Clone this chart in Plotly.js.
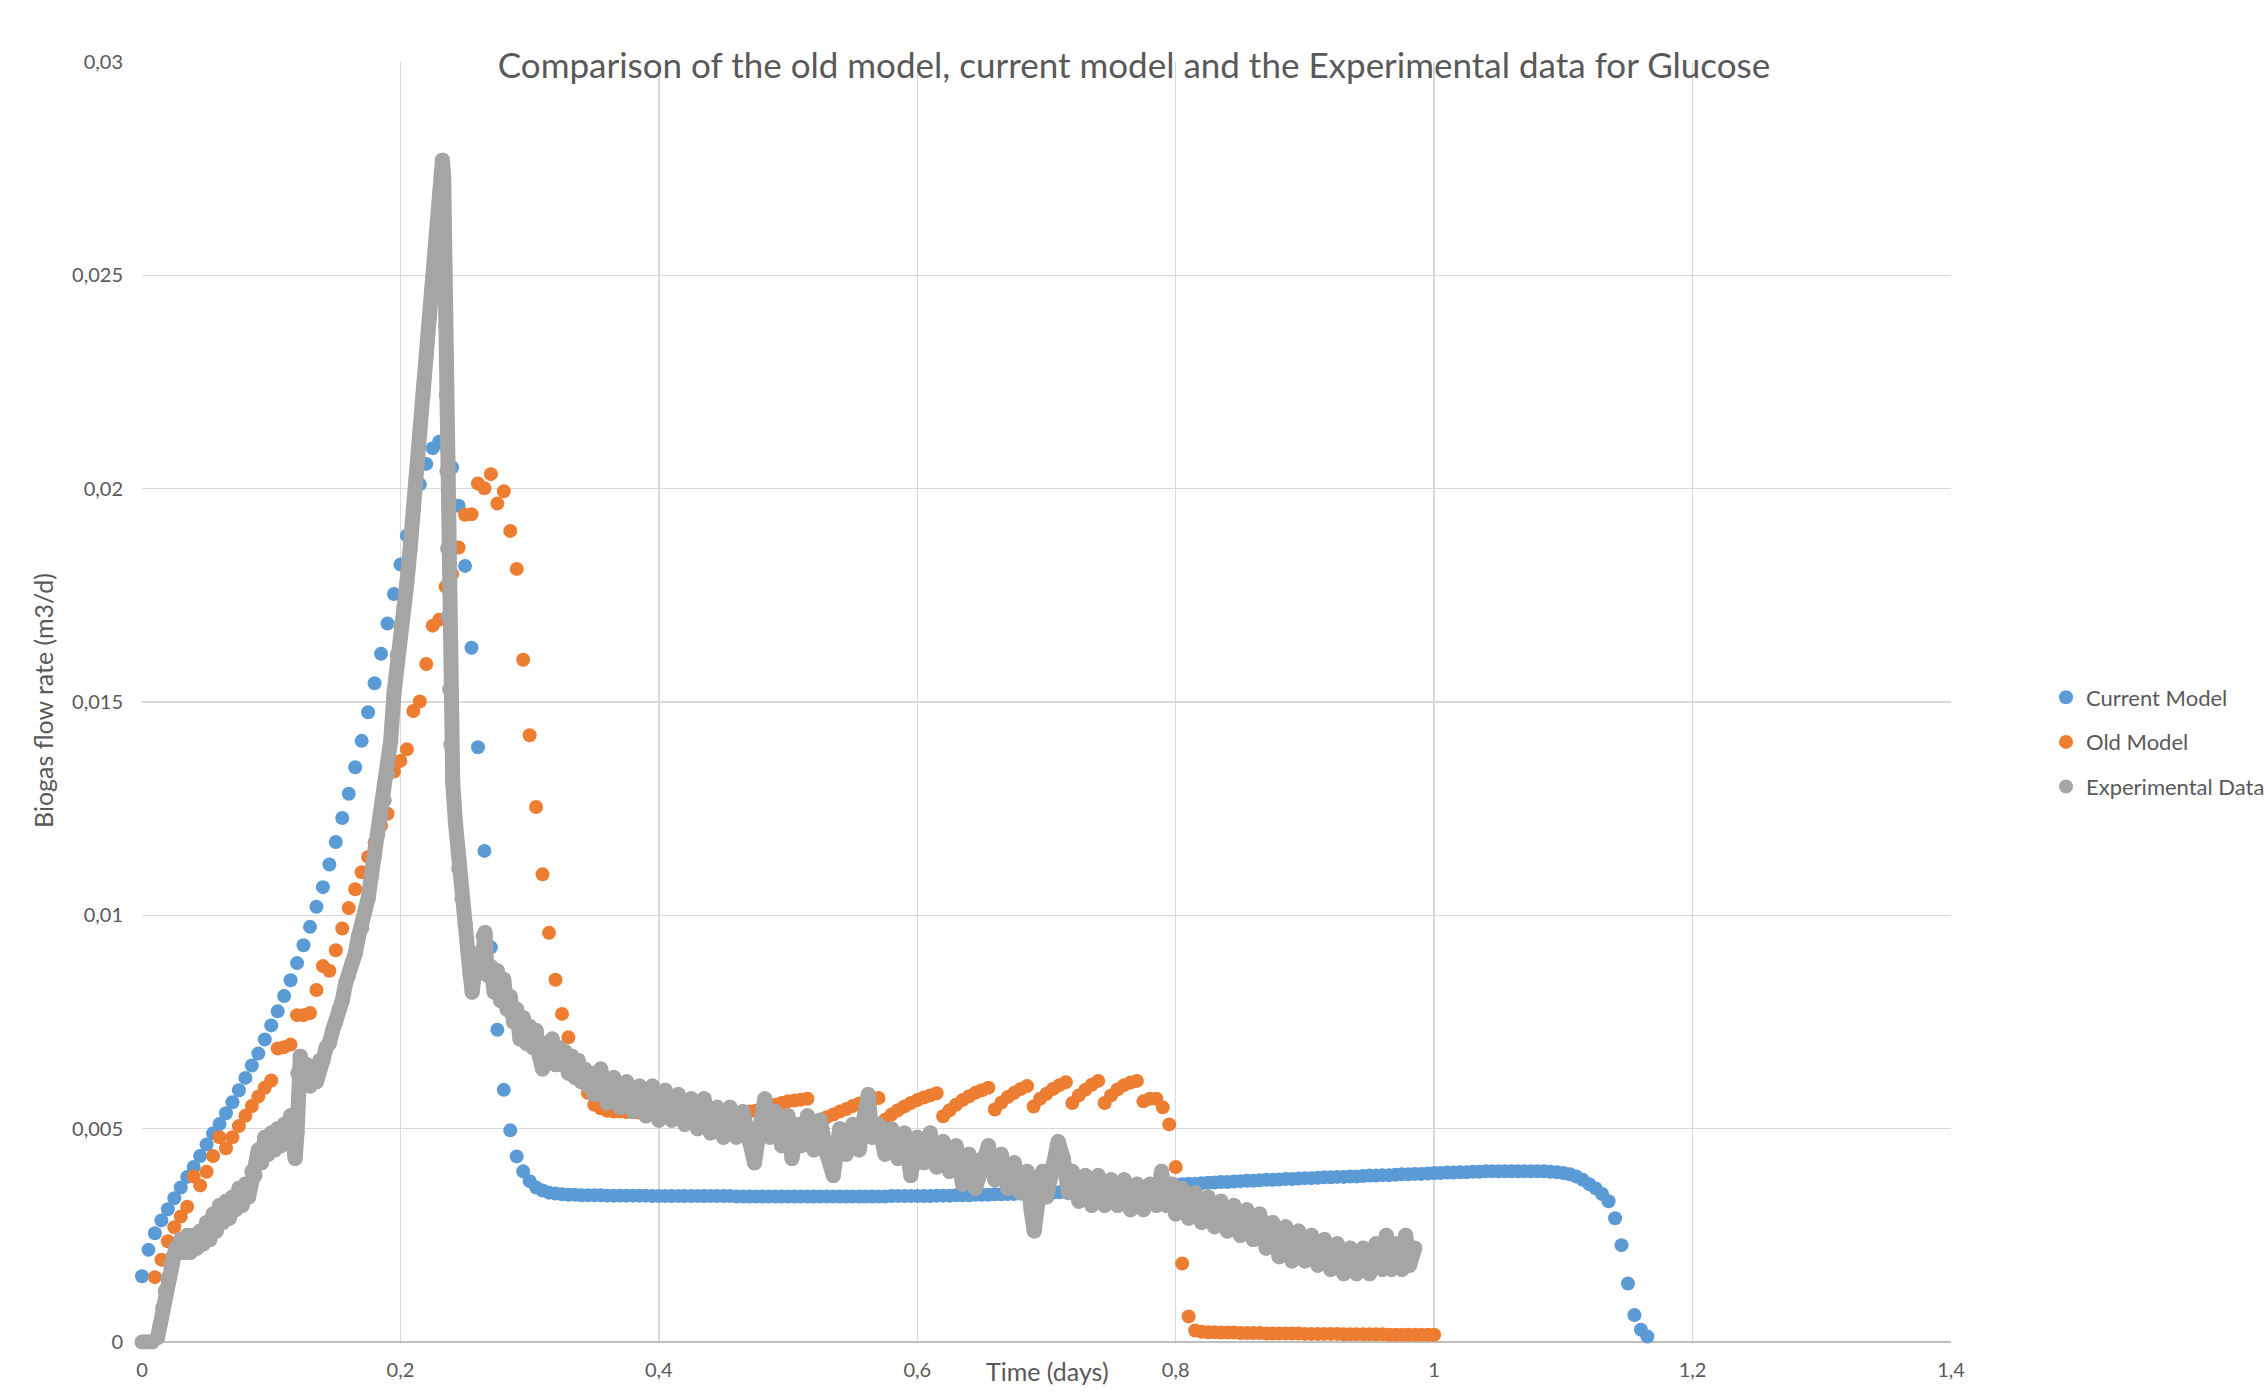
<!DOCTYPE html>
<html>
<head>
<meta charset="utf-8">
<script src="https://cdn.plot.ly/plotly-3.0.1.min.js"></script>
<style>
html,body{margin:0;padding:0;background:#fff}
#chart{width:2268px;height:1394px}
.js-line{stroke-linejoin:round;stroke-linecap:round}
</style>
</head>
<body>
<div id="chart"></div>
<script>
// ---------------- DATA ----------------
const chartTitle = 'Comparison of the old model, current model and the Experimental data for Glucose';
const seriesNames = ['Current Model', 'Old Model', 'Experimental Data'];
const xTitle = 'Time (days)';
const yTitle = 'Biogas flow rate (m3/d)';

// model outputs are sampled on a regular time grid (days)
const modelStep = 0.005;
const currentStart = 0;
const oldStart = 0.01;

// Current Model, biogas flow rate (m3/d), one value per model time step from t = 0
const currentModel = [
0.00154,0.00216,0.00255,0.00285,0.00311,0.00337,0.00362,0.00387,0.0041,0.00436,
0.00463,0.00489,0.00511,0.00536,0.00562,0.0059,0.00619,0.00648,0.00676,0.00709,
0.00742,0.00775,0.00811,0.00848,0.00888,0.0093,0.00973,0.0102,0.01066,0.01119,
0.01172,0.01228,0.01285,0.01347,0.01409,0.01476,0.01544,0.01613,0.01684,0.01753,
0.01822,0.0189,0.01955,0.0201,0.02058,0.02095,0.0211,0.021,0.0205,0.0196,
0.01819,0.01627,0.01394,0.01151,0.00925,0.00732,0.00591,0.00496,0.00435,0.004,
0.00377,0.00362,0.00355,0.0035,0.00348,0.00346,0.00345,0.00345,0.00344,0.00344,
0.00344,0.00344,0.00343,0.00343,0.00343,0.00343,0.00343,0.00343,0.00343,0.00342,
0.00342,0.00342,0.00342,0.00342,0.00342,0.00342,0.00342,0.00342,0.00342,0.00342,
0.00342,0.00342,0.00341,0.00341,0.00341,0.00341,0.00341,0.00341,0.00341,0.00341,
0.00341,0.00341,0.00341,0.00341,0.00341,0.00341,0.00341,0.00341,0.00341,0.00341,
0.00341,0.00341,0.00341,0.00341,0.00341,0.00341,0.00342,0.00342,0.00342,0.00342,
0.00342,0.00342,0.00342,0.00343,0.00343,0.00343,0.00344,0.00344,0.00344,0.00345,
0.00345,0.00345,0.00346,0.00346,0.00347,0.00347,0.00348,0.00348,0.00349,0.00349,
0.0035,0.0035,0.00351,0.00352,0.00353,0.00354,0.00355,0.00356,0.00357,0.00358,
0.00359,0.0036,0.00361,0.00362,0.00363,0.00364,0.00365,0.00366,0.00367,0.00368,
0.00369,0.0037,0.00371,0.00371,0.00372,0.00373,0.00374,0.00375,0.00375,0.00376,
0.00377,0.00378,0.00378,0.00379,0.0038,0.0038,0.00381,0.00382,0.00382,0.00383,
0.00384,0.00384,0.00385,0.00386,0.00386,0.00387,0.00387,0.00388,0.00388,0.00389,
0.0039,0.0039,0.00391,0.00391,0.00392,0.00393,0.00393,0.00394,0.00394,0.00395,
0.00396,0.00396,0.00397,0.00397,0.00398,0.00398,0.00399,0.00399,0.004,0.004,
0.004,0.004,0.004,0.004,0.004,0.004,0.004,0.004,0.00399,0.00398,
0.00396,0.00393,0.00388,0.0038,0.0037,0.0036,0.00347,0.0033,0.0029,0.00227,
0.00137,0.00063,0.00029,0.00013
];

// Old Model, biogas flow rate (m3/d), one value per model time step from t = 0.01
const oldModel = [
0.00152,0.00193,0.00236,0.00269,0.00294,0.00317,0.00388,0.00367,0.00399,0.00436,
0.0048,0.00454,0.0048,0.00506,0.0053,0.00553,0.00575,0.00596,0.00613,0.00688,
0.00691,0.00697,0.00766,0.00766,0.00771,0.00825,0.00881,0.0087,0.00918,0.00969,
0.01017,0.01061,0.01101,0.01137,0.0117,0.0121,0.01238,0.01337,0.01362,0.01389,
0.01479,0.01501,0.01589,0.01679,0.01693,0.0177,0.018,0.01862,0.01939,0.0194,
0.02012,0.02001,0.02034,0.01965,0.01994,0.01901,0.01812,0.01599,0.01422,0.01254,
0.01096,0.00959,0.00849,0.00769,0.00714,0.0065,0.0061,0.00584,0.00556,0.00548,
0.00542,0.0054,0.0054,0.00539,0.00539,0.00538,0.00538,0.00538,0.00538,0.00538,
0.00538,0.00538,0.00538,0.00538,0.00538,0.00538,0.00538,0.00538,0.00538,0.00538,
0.00538,0.00539,0.0054,0.00542,0.00546,0.00552,0.00556,0.0056,0.00564,0.00566,
0.00568,0.0057,
0.00517,0.00521,0.00527,0.00533,0.0054,0.00546,0.00553,0.00559,0.00564,0.00568,0.00572,
0.00521,0.00533,0.00543,0.00552,0.0056,0.00567,0.00573,0.00578,0.00583,
0.00529,0.00543,0.00556,0.00567,0.00576,0.00584,0.0059,0.00596,
0.00545,0.00561,0.00574,0.00584,0.00593,0.006,
0.00552,0.0057,0.00582,0.00593,0.00602,0.00609,
0.0056,0.00578,0.00591,0.00603,0.00612,
0.0056,0.00578,0.00592,0.00602,0.00608,0.00612,
0.00564,0.0057,0.0057,0.0055,0.0051,0.0041,0.00184,0.0006,0.00027,
0.00024,0.00023,0.00023,0.00022,0.00022,0.00022,0.00021,0.00021,0.00021,0.00021,
0.0002,0.0002,0.0002,0.0002,0.0002,0.0002,0.00019,0.00019,0.00019,0.00019,
0.00019,0.00019,0.00018,0.00018,0.00018,0.00018,0.00018,0.00018,0.00018,0.00017,
0.00017,0.00017,0.00017,0.00017,0.00017,0.00017,0.00017
];

// Experimental data: time (days), ten values per line
const expTime = [
0,0.004,0.008,0.012,0.014,0.016,0.018,0.02,0.022,0.024,
0.026,0.028,0.03,0.0325,0.035,0.0375,0.04,0.0425,0.045,0.0475,
0.05,0.0525,0.055,0.0575,0.06,0.0625,0.065,0.0675,0.07,0.0725,
0.075,0.0775,0.08,0.0825,0.085,0.0875,0.09,0.0925,0.095,0.0975,
0.1,0.1025,0.105,0.1075,0.11,0.1125,0.115,0.117,0.1185,0.12,
0.1205,0.1225,0.125,0.1275,0.13,0.1325,0.135,0.1375,0.14,0.1425,
0.145,0.1475,0.15,0.1525,0.155,0.1575,0.16,0.1625,0.165,0.1675,
0.17,0.1725,0.175,0.1775,0.18,0.1825,0.185,0.1875,0.19,0.1925,
0.195,0.1975,0.2,0.2025,0.205,0.2075,0.21,0.2125,0.215,0.2175,
0.22,0.2225,0.225,0.2275,0.23,0.2315,0.2325,0.2335,0.234,0.2345,
0.235,0.2355,0.236,0.2365,0.237,0.238,0.239,0.2405,0.2425,0.245,
0.2475,0.25,0.252,0.254,0.2555,0.258,0.26,0.2625,0.264,0.2655,
0.267,0.27,0.2725,0.275,0.2775,0.28,0.2825,0.285,0.2875,0.29,
0.2925,0.295,0.2975,0.3,0.3025,0.305,0.3075,0.31,0.3125,0.315,
0.3175,0.32,0.3225,0.325,0.3275,0.33,0.3325,0.335,0.3375,0.34,
0.3425,0.345,0.3475,0.35,0.355,0.36,0.365,0.37,0.375,0.38,
0.385,0.39,0.395,0.4,0.405,0.41,0.415,0.42,0.425,0.43,
0.435,0.44,0.445,0.45,0.455,0.46,0.465,0.47,0.474,0.478,
0.482,0.486,0.49,0.495,0.5,0.503,0.507,0.51,0.515,0.52,
0.525,0.53,0.535,0.54,0.545,0.55,0.555,0.559,0.562,0.565,
0.57,0.575,0.58,0.585,0.59,0.595,0.6,0.605,0.61,0.615,
0.62,0.625,0.63,0.635,0.64,0.645,0.65,0.655,0.66,0.665,
0.67,0.675,0.68,0.685,0.688,0.6905,0.693,0.697,0.7,0.705,
0.709,0.713,0.717,0.72,0.725,0.73,0.735,0.74,0.745,0.75,
0.755,0.76,0.765,0.77,0.775,0.78,0.785,0.789,0.793,0.797,
0.8,0.805,0.81,0.815,0.82,0.825,0.83,0.835,0.84,0.845,
0.85,0.855,0.86,0.865,0.87,0.875,0.88,0.885,0.89,0.895,
0.9,0.905,0.91,0.915,0.92,0.925,0.93,0.935,0.94,0.945,
0.95,0.955,0.96,0.963,0.967,0.97,0.975,0.978,0.981,0.985
];
// Experimental data: biogas flow rate (m3/d), same layout as expTime
const expFlow = [
0,0,0,0.0001,0.0004,0.0008,0.0012,0.0015,0.0018,0.002,
0.0022,0.00215,0.0024,0.0021,0.0025,0.0021,0.0025,0.0022,0.0026,0.0023,
0.0028,0.0024,0.003,0.0026,0.0032,0.0028,0.0033,0.0029,0.0034,0.0031,
0.0036,0.0032,0.0037,0.0034,0.004,0.0039,0.0045,0.0042,0.0048,0.0044,
0.0049,0.0045,0.005,0.0046,0.0051,0.0047,0.0053,0.0047,0.0043,0.0049,
0.0063,0.0067,0.0061,0.0065,0.006,0.0064,0.0061,0.0066,0.0066,0.0069,
0.007,0.0073,0.0075,0.0078,0.008,0.0084,0.0086,0.0089,0.0091,0.0095,
0.0097,0.0101,0.0104,0.0109,0.0114,0.0119,0.0123,0.0127,0.0133,0.0141,
0.0152,0.0161,0.0168,0.0172,0.0178,0.0186,0.0195,0.0204,0.0213,0.0222,
0.0231,0.024,0.0249,0.0258,0.0267,0.0274,0.0277,0.0273,0.0263,0.0252,
0.0238,0.0222,0.0204,0.0186,0.017,0.0153,0.014,0.0131,0.0122,0.0111,
0.0104,0.0098,0.0092,0.0086,0.0082,0.0088,0.0091,0.0087,0.0095,0.0096,
0.0086,0.0088,0.0082,0.0087,0.008,0.0085,0.0078,0.0081,0.0075,0.0078,
0.0071,0.0076,0.007,0.0074,0.0069,0.0073,0.0067,0.0064,0.007,0.0066,
0.0071,0.0065,0.0069,0.0065,0.0068,0.0063,0.0067,0.0062,0.0066,0.0061,
0.0064,0.006,0.0063,0.0058,0.0064,0.0056,0.0062,0.0055,0.0061,0.0054,
0.006,0.0053,0.006,0.0052,0.0059,0.0052,0.0058,0.0051,0.0057,0.005,
0.0057,0.0049,0.0055,0.0048,0.0055,0.0048,0.0054,0.0047,0.0042,0.005,
0.0057,0.0048,0.0054,0.0046,0.0053,0.0043,0.0051,0.0046,0.0053,0.0045,
0.0052,0.0044,0.0039,0.005,0.0044,0.0051,0.0045,0.0053,0.0058,0.0048,
0.0051,0.0044,0.005,0.0043,0.0049,0.0039,0.0048,0.0042,0.0049,0.0041,
0.0047,0.004,0.0046,0.0037,0.0044,0.0036,0.0043,0.0046,0.0038,0.0044,
0.0036,0.0042,0.0035,0.004,0.0031,0.0026,0.0032,0.004,0.0034,0.0041,
0.0047,0.0043,0.0035,0.004,0.0033,0.0039,0.0032,0.0039,0.0032,0.0038,
0.0032,0.0038,0.0031,0.0037,0.0031,0.0037,0.0032,0.004,0.0032,0.0037,
0.003,0.0036,0.0029,0.0035,0.0028,0.0034,0.0027,0.0033,0.0026,0.0032,
0.0025,0.0031,0.0024,0.003,0.0022,0.0028,0.002,0.0027,0.0019,0.0026,
0.0019,0.0025,0.0018,0.0024,0.0017,0.0023,0.0016,0.0022,0.0016,0.0022,
0.0016,0.0023,0.0017,0.0025,0.0017,0.0023,0.0017,0.0025,0.0018,0.0022
];

// ---------------- CHART ----------------
const colors = ['#5B9BD5', '#ED7D31', '#A5A5A5'];
const textColor = '#595959';
const fontFamily = 'Lato, "Open Sans", sans-serif';

const currentTime = currentModel.map((_, i) => +(currentStart + i * modelStep).toFixed(4));
const oldTime = oldModel.map((_, i) => +(oldStart + i * modelStep).toFixed(4));

const traces = [
  {
    type: 'scatter', mode: 'markers', name: seriesNames[0],
    x: currentTime, y: currentModel, legendgroup: 'g1',
    marker: {color: colors[0], size: 14}, cliponaxis: false
  },
  {
    type: 'scatter', mode: 'markers', name: seriesNames[1],
    x: oldTime, y: oldModel, legendgroup: 'g2',
    marker: {color: colors[1], size: 14}, cliponaxis: false
  },
  {
    type: 'scatter', mode: 'lines+markers', name: seriesNames[2],
    x: expTime, y: expFlow, legendgroup: 'g3', showlegend: false,
    line: {color: colors[2], width: 15},
    marker: {color: colors[2], size: 15}, cliponaxis: false
  },
  {
    type: 'scatter', mode: 'markers', name: seriesNames[2],
    x: [null], y: [null], legendgroup: 'g3',
    marker: {color: colors[2], size: 14}
  }
];

const plotL = 142, plotR = 1951, plotT = 62, plotB = 1342;
const W = 2268, H = 1394;
const pw = plotR - plotL, ph = plotB - plotT;

const layout = {
  width: W, height: H,
  paper_bgcolor: '#ffffff', plot_bgcolor: '#ffffff',
  separators: ', ',
  font: {family: fontFamily, color: textColor, size: 20},
  margin: {l: plotL, r: W - plotR, t: plotT, b: H - plotB, pad: 0, autoexpand: false},
  showlegend: true,
  title: {
    text: chartTitle,
    font: {family: fontFamily, size: 35, color: textColor},
    x: 0.5, xref: 'container', xanchor: 'center',
    y: 1 - 66 / H, yref: 'container', yanchor: 'middle'
  },
  xaxis: {
    range: [0, 1.4], tick0: 0, dtick: 0.2,
    showgrid: true, gridcolor: '#d9d9d9', gridwidth: 1.5,
    zeroline: false, showline: false, ticks: '',
    ticklabelstandoff: 14, automargin: false,
    tickfont: {size: 20, color: textColor}
  },
  yaxis: {
    range: [0, 0.03], tick0: 0, dtick: 0.005,
    showgrid: true, gridcolor: '#d9d9d9', gridwidth: 1.5,
    zeroline: true, zerolinecolor: '#bfbfbf', zerolinewidth: 2.5,
    showline: false, ticks: '',
    ticklabelstandoff: 18, automargin: false,
    tickfont: {size: 20, color: textColor}
  },
  legend: {
    x: (2046 - plotL) / pw, xanchor: 'left',
    y: (plotB - 742) / ph, yanchor: 'middle',
    font: {size: 22, color: textColor},
    tracegroupgap: 13, bgcolor: 'rgba(0,0,0,0)'
  },
  annotations: [
    {
      text: xTitle, xref: 'paper', yref: 'paper',
      x: (1047 - plotL) / pw, y: -29 / ph,
      xanchor: 'center', yanchor: 'middle', showarrow: false,
      font: {size: 25, color: textColor}
    },
    {
      text: yTitle, xref: 'paper', yref: 'paper',
      x: (43 - plotL) / pw, y: (plotB - 701) / ph, textangle: -90,
      xanchor: 'center', yanchor: 'middle', showarrow: false,
      font: {size: 25, color: textColor}
    }
  ]
};

Plotly.newPlot('chart', traces, layout, {staticPlot: true, displayModeBar: false});
</script>
</body>
</html>
